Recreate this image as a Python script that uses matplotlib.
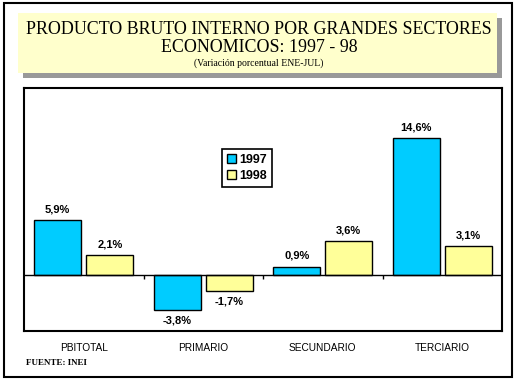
import numpy as np
import matplotlib.pyplot as plt
from matplotlib.patches import Rectangle

# ── Data ──────────────────────────────────────────────────────────────────────
categories = ["PBITOTAL", "PRIMARIO", "SECUNDARIO", "TERCIARIO"]
years = ["1997", "1998"]
values_1997 = [5.9, -3.8, 0.9, 14.6]
values_1998 = [2.1, -1.7, 3.6, 3.1]

title_1 = "PRODUCTO BRUTO INTERNO POR GRANDES SECTORES"
title_2 = "ECONOMICOS: 1997 - 98"
subtitle = "(Variación porcentual ENE-JUL)"
source = "FUENTE: INEI"

BLUE = "#00CCFF"
YELLOW = "#FFFF99"
SANS = "Liberation Sans"
SERIF = "Liberation Serif"

W, H = 517, 381
fig = plt.figure(figsize=(W / 100, H / 100), dpi=100, facecolor="white")


def fx(px):
    return px / W


def fy(py):
    return 1 - py / H


# ── Decorations: outer frame, title box with shadow ──────────────────────────
fig.patches.append(Rectangle((fx(4), fy(377)), fx(508), (377 - 3) / H,
                             transform=fig.transFigure, fill=False,
                             edgecolor="black", linewidth=1.5, zorder=0))
fig.patches.append(Rectangle((fx(23), fy(78)), fx(479), 60 / H,
                             transform=fig.transFigure, facecolor="#999999",
                             edgecolor="none", zorder=0))
fig.patches.append(Rectangle((fx(18), fy(73)), fx(479), 60 / H,
                             transform=fig.transFigure, facecolor="#FFFFCC",
                             edgecolor="none", zorder=0))

fig.text(fx(259), fy(29), title_1, ha="center", va="center",
         family=SERIF, fontsize=12.9)
fig.text(fx(259), fy(47), title_2, ha="center", va="center",
         family=SERIF, fontsize=12.9)
fig.text(fx(259), fy(63.5), subtitle, ha="center", va="center",
         family=SERIF, fontsize=7)
fig.text(fx(26), fy(363), source, ha="left", va="center",
         family=SERIF, fontsize=6.5, fontweight="bold")

# ── Chart ─────────────────────────────────────────────────────────────────────
ax = fig.add_axes([fx(24), fy(331), fx(478), (331 - 88) / H])
x = np.arange(len(categories))
width = 0.395
off = 0.218

b1 = ax.bar(x - off, values_1997, width, color=BLUE, edgecolor="black",
            linewidth=1, label=years[0], zorder=2)
b2 = ax.bar(x + off, values_1998, width, color=YELLOW, edgecolor="black",
            linewidth=1, label=years[1], zorder=2)

for bars, vals in ((b1, values_1997), (b2, values_1998)):
    for rect, v in zip(bars, vals):
        top = v >= 0
        ax.annotate(f"{v:.1f}%".replace(".", ","),
                    (rect.get_x() + rect.get_width() / 2, v),
                    xytext=(0, 4 if top else -4), textcoords="offset points",
                    ha="center", va="bottom" if top else "top",
                    family=SANS, fontsize=8, fontweight="bold")

ax.axhline(0, color="black", linewidth=1, zorder=3)
bounds = np.arange(len(categories) + 1) - 0.5
ax.vlines(bounds[1:-1], -0.4, 0, color="black", linewidth=1, zorder=3)

ax.set_xlim(-0.5, len(categories) - 0.5)
ax.set_ylim(-6, 20)
ax.set_yticks([])
ax.set_xticks(x)
ax.set_xticklabels(categories, family=SANS, fontsize=7.3)
ax.tick_params(axis="x", length=0, pad=8.5)
for spine in ax.spines.values():
    spine.set_linewidth(1.5)

leg = ax.legend(loc="upper left", bbox_to_anchor=(fx(222), fy(149)),
                bbox_transform=fig.transFigure, frameon=True, fancybox=False,
                framealpha=1, edgecolor="black", handlelength=0.7,
                handleheight=0.7, handletextpad=0.3, labelspacing=0.3,
                borderpad=0.4, borderaxespad=0,
                prop={"family": SANS, "size": 9, "weight": "bold"})
leg.get_frame().set_linewidth(1.2)

fig.savefig("out.png", dpi=100, facecolor="white")
